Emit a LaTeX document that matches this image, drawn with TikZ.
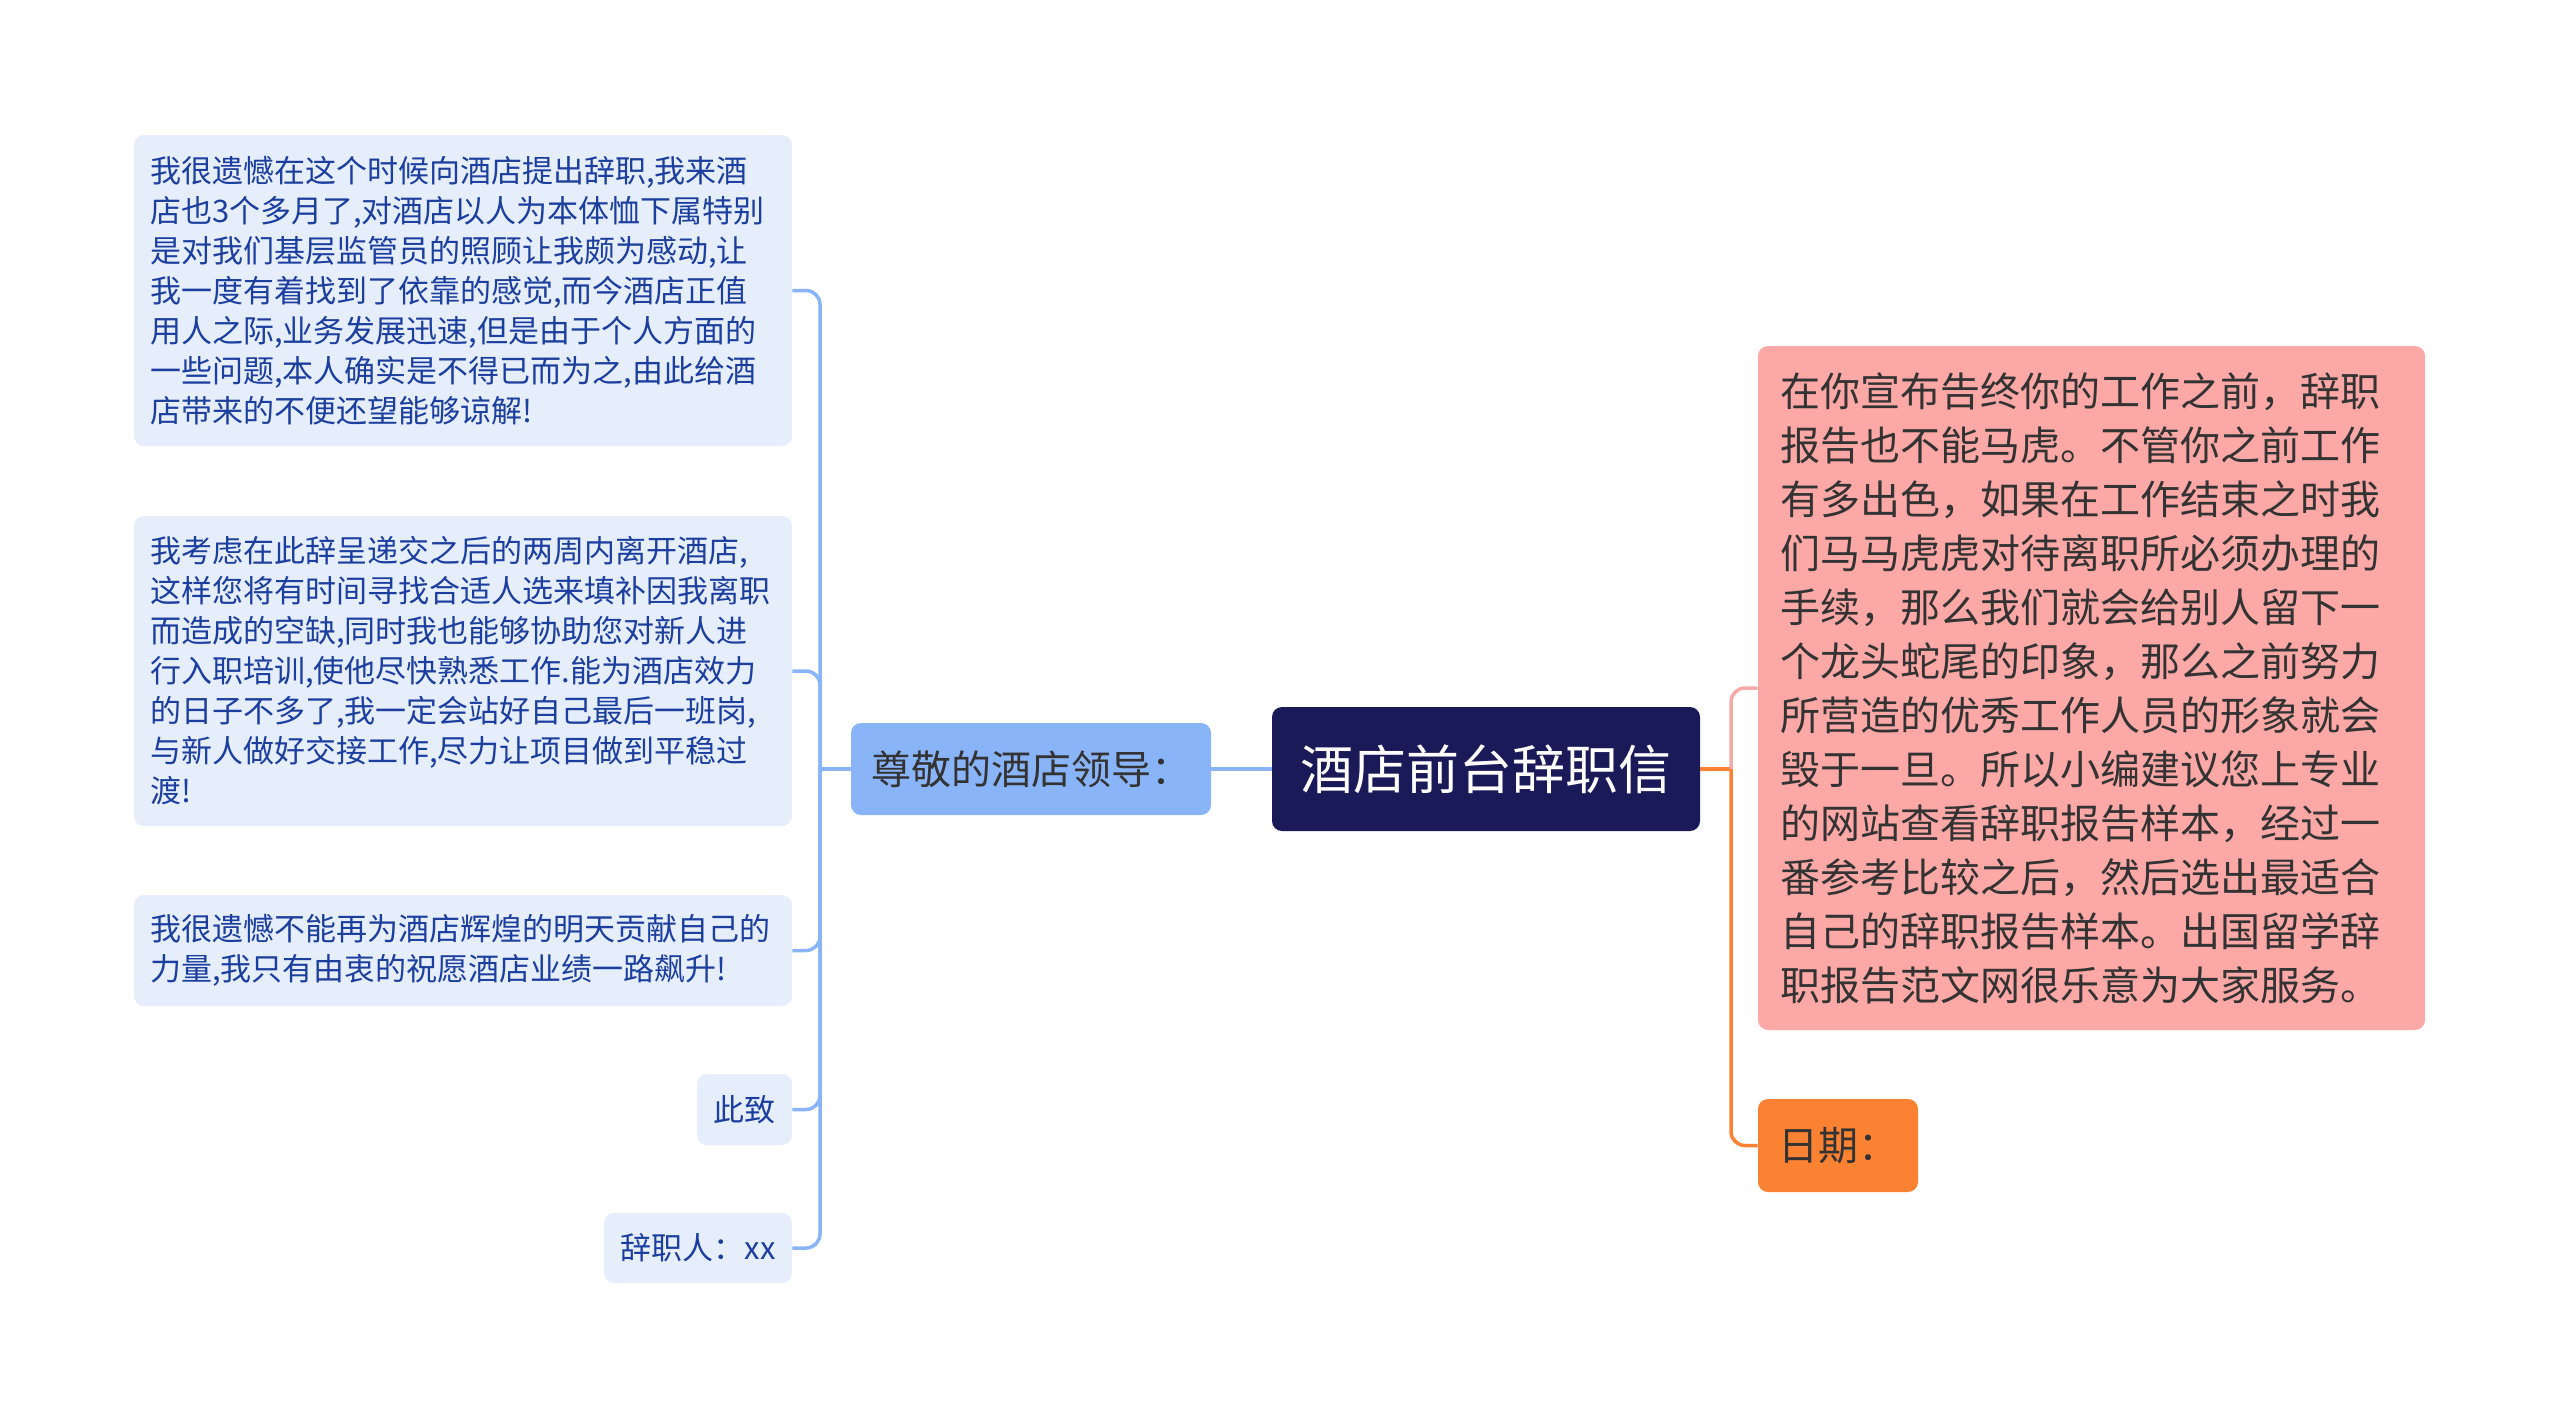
\documentclass[tikz,border=0pt]{standalone}
\usepackage{fontspec}
\newfontfamily\cjk{Noto Sans CJK SC}
\definecolor{leafbg}{RGB}{230,238,252}
\definecolor{leaftxt}{RGB}{28,62,158}
\definecolor{blueline}{RGB}{138,180,248}
\definecolor{navy}{RGB}{27,26,88}
\definecolor{pinkbg}{RGB}{252,168,166}
\definecolor{pinkline}{RGB}{244,170,168}
\definecolor{orangebg}{RGB}{250,130,50}
\definecolor{darktxt}{RGB}{51,51,51}
\begin{document}
\begin{tikzpicture}[x=0.5pt,y=-0.5pt,
  leaf/.style={fill=leafbg, rounded corners=5pt, text=leaftxt, inner xsep=8pt, inner ysep=0pt,
    font=\cjk\fontsize{15.5pt}{20pt}\selectfont},
  leafbig/.style={leaf, text width=313pt, align=left},
  bconn/.style={draw=blueline, line width=1.75pt, rounded corners=7pt},
  oconn/.style={draw=orangebg, line width=1.75pt, rounded corners=7pt},
  pconn/.style={draw=pinkline, line width=1.75pt, rounded corners=7pt}]
\useasboundingbox (0,0) rectangle (2560,1419);
\fill[white] (0,0) rectangle (2560,1419);

% left leaves
\node[leafbig, minimum height=155.5pt] (b1) at (463,290.5) {我很遗憾在这个时候向酒店提出辞职,我来酒\\店也3个多月了,对酒店以人为本体恤下属特别\\是对我们基层监管员的照顾让我颇为感动,让\\我一度有着找到了依靠的感觉,而今酒店正值\\用人之际,业务发展迅速,但是由于个人方面的\\一些问题,本人确实是不得已而为之,由此给酒\\店带来的不便还望能够谅解!};
\node[leafbig, minimum height=155pt] (b2) at (463,671) {我考虑在此辞呈递交之后的两周内离开酒店,\\这样您将有时间寻找合适人选来填补因我离职\\而造成的空缺,同时我也能够协助您对新人进\\行入职培训,使他尽快熟悉工作.能为酒店效力\\的日子不多了,我一定会站好自己最后一班岗,\\与新人做好交接工作,尽力让项目做到平稳过\\渡!};
\node[leafbig, minimum height=55.5pt] (b3) at (463,950.5) {我很遗憾不能再为酒店辉煌的明天贡献自己的\\力量,我只有由衷的祝愿酒店业绩一路飙升!};
\node[leaf, minimum width=47.5pt, minimum height=35.5pt] (b4) at (744.5,1109.5) {此致};
\node[leaf, minimum width=94pt, minimum height=35pt] (b5) at (698,1248) {辞职人：xx};

% main branch
\node[fill=blueline, rounded corners=5pt, text=darktxt, minimum width=180pt, minimum height=46pt,
  font=\cjk\fontsize{20pt}{24pt}\selectfont] (zun) at (1031,769) {尊敬的酒店领导：};
\node[fill=navy, rounded corners=5pt, text=white, minimum width=214pt, minimum height=62pt,
  font=\cjk\fontsize{26.5pt}{30pt}\selectfont] (root) at (1486,769) {酒店前台辞职信};

% right side
\node[fill=pinkbg, rounded corners=5pt, text=darktxt, text width=311.5pt, inner xsep=11pt, inner ysep=0pt,
  minimum height=342pt, align=left, font=\cjk\fontsize{20pt}{27pt}\selectfont] (pink) at (2091.5,688)
  {在你宣布告终你的工作之前，辞职\\报告也不能马虎。不管你之前工作\\有多出色，如果在工作结束之时我\\们马马虎虎对待离职所必须办理的\\手续，那么我们就会给别人留下一\\个龙头蛇尾的印象，那么之前努力\\所营造的优秀工作人员的形象就会\\毁于一旦。所以小编建议您上专业\\的网站查看辞职报告样本，经过一\\番参考比较之后，然后选出最适合\\自己的辞职报告样本。出国留学辞\\职报告范文网很乐意为大家服务。};
\node[fill=orangebg, rounded corners=5pt, text=darktxt, minimum width=80pt, minimum height=46.5pt,
  font=\cjk\fontsize{20pt}{24pt}\selectfont] (date) at (1838,1145.5) {日期：};

% connectors left
\coordinate (L) at (820,769);
\draw[bconn] (root.west) -- (zun.east);
\draw[bconn] (zun.west) -- (L);
\foreach \n in {b1,b2,b3,b4,b5} \draw[bconn] (L) |- (\n.east);

% connectors right
\coordinate (R) at (1731,769);
\draw[oconn] (root.east) -- (R);
\draw[pconn] (R) |- (pink.west);
\draw[oconn] (R) |- (date.west);
\end{tikzpicture}
\end{document}
